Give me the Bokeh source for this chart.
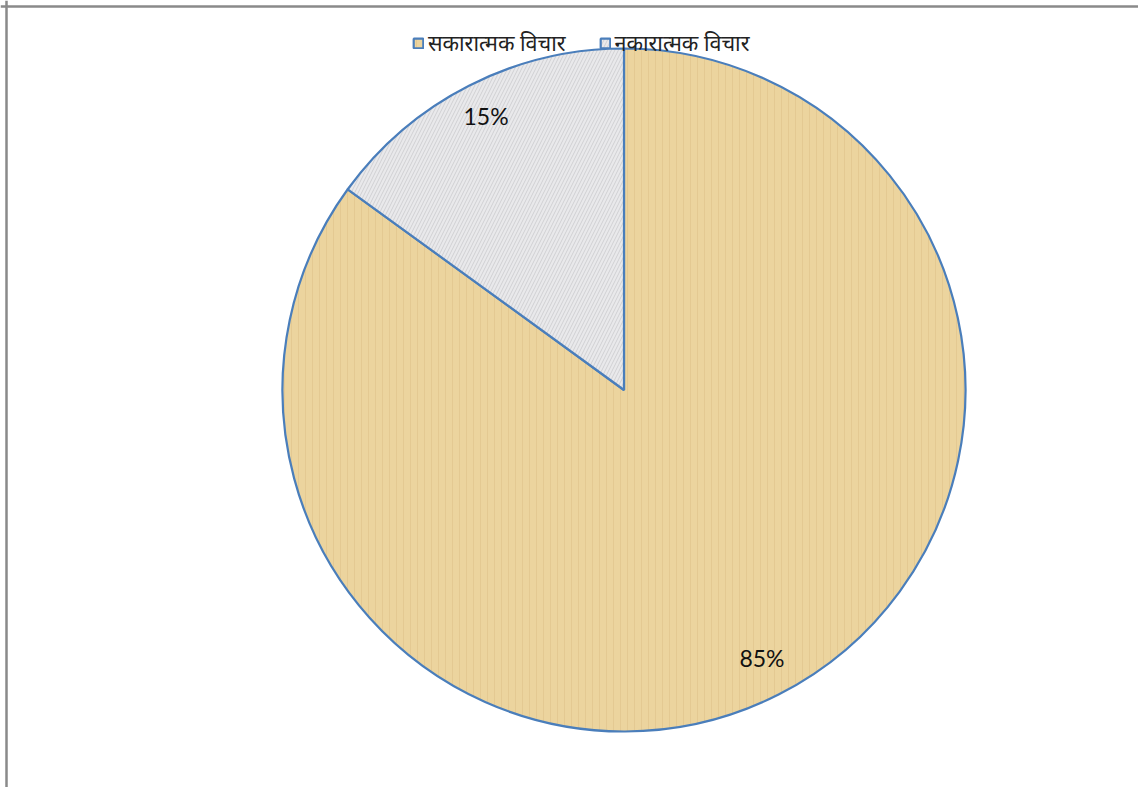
import math
from bokeh.plotting import figure
from bokeh.models import Range1d, Legend, LegendItem, Span, ColumnDataSource
from bokeh.core.properties import value
from bokeh.embed import file_html
from bokeh.resources import INLINE

# ---- data ----
categories = ["सकारात्मक विचार", "नकारात्मक विचार"]
shares = [85, 15]
labels = ["85%", "15%"]
colors = ["#ecd49e", "#e9e9eb"]
hatch_colors = ["#d4b57a", "#a0a0a6"]
hatch_patterns = ["vertical_line", "right_diagonal_line"]

W, H = 1138, 787
p = figure(width=W, height=H, output_backend="svg", toolbar_location=None,
           x_range=Range1d(0, W), y_range=Range1d(0, H), min_border=0)
p.axis.visible = False
p.grid.visible = False
p.outline_line_color = None
p.background_fill_color = "white"
p.border_fill_color = "white"

cx, cy, R = 623.5, 397.5, 341.5

total = sum(shares)
starts, ends, lx, ly = [], [], [], []
a = math.pi / 2
for s in shares:
    sweep = 2 * math.pi * s / total
    starts.append(a)
    ends.append(a - sweep)
    mid = a - sweep / 2
    lx.append(cx + 0.89 * R * math.cos(mid))
    ly.append(cy + 0.89 * R * math.sin(mid))
    a -= sweep

src = ColumnDataSource(dict(lx=lx, ly=ly, lab=labels))

rends = []
for i in range(len(shares)):
    r = p.wedge(x=cx, y=cy, radius=R, start_angle=starts[i], end_angle=ends[i],
                direction="clock", fill_color=colors[i], line_color="#4a7ebb",
                line_width=2.2, hatch_pattern=hatch_patterns[i],
                hatch_color=hatch_colors[i], hatch_alpha=0.35, hatch_scale=7,
                hatch_weight=1)
    rends.append(r)

p.text(x="lx", y="ly", text="lab", source=src, text_align="center",
       text_baseline="middle", text_font=value("Lato"), text_font_size="23px",
       text_color="#111111", y_offset=-3)

legend = Legend(items=[LegendItem(label=categories[i], renderers=[rends[i]]) for i in range(len(shares))],
                orientation="horizontal", location=(412, 730), padding=0, margin=0,
                spacing=33, glyph_width=12, glyph_height=12, label_standoff=4,
                label_height=20,
                label_text_font="Noto Sans", label_text_font_size="21.5px",
                label_text_color="#222222", border_line_color=None,
                background_fill_alpha=0)
p.add_layout(legend, "center")

p.add_layout(Span(location=6, dimension="height", line_color="#8a8a8a", line_width=2.5))
p.add_layout(Span(location=H - 6, dimension="width", line_color="#8a8a8a", line_width=2.5))

open("out.html", "w").write(file_html(p, INLINE))
